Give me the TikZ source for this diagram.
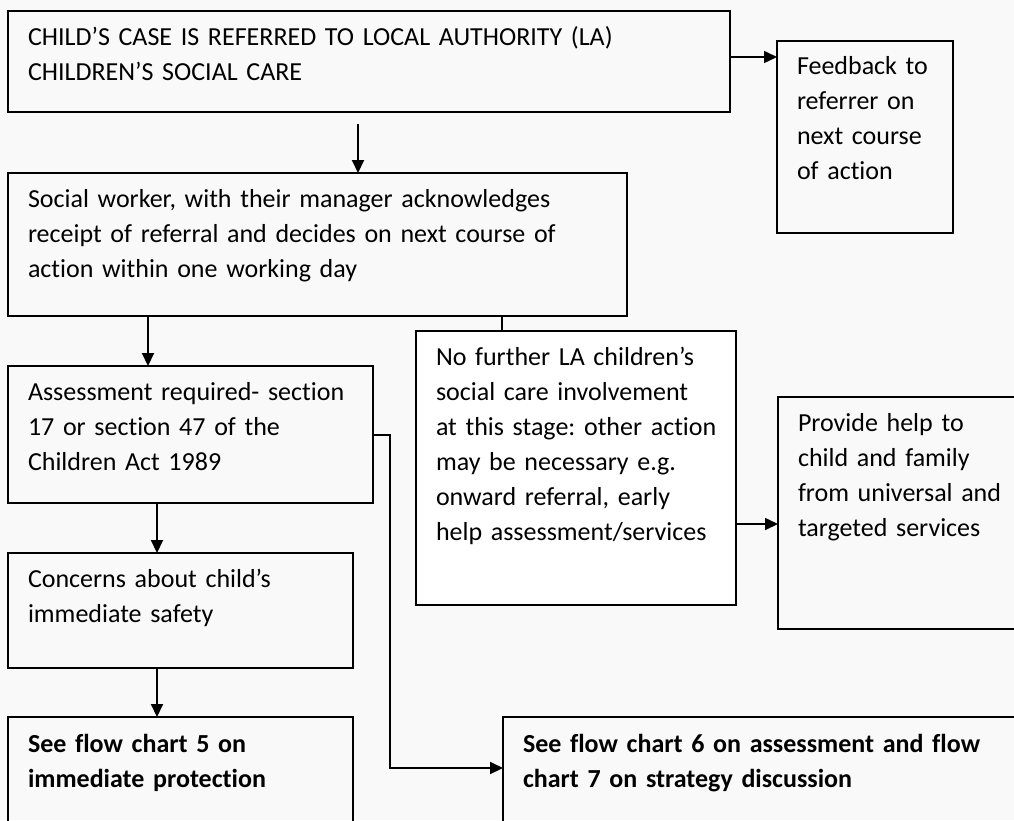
\documentclass[tikz,border=0pt]{standalone}
\usepackage{fontspec}
\setmainfont{Carlito}[Ligatures=NoCommon]
\frenchspacing
\usetikzlibrary{arrows.meta}
\definecolor{bg}{RGB}{249,249,249}
\tikzset{
  box/.style={draw=black, line width=1.2pt, rectangle, inner xsep=20pt, inner ysep=0pt,
    outer sep=0pt, anchor=north west, align=left,
    font=\fontsize{26}{35}\selectfont},
  arr/.style={line width=2pt, -{Triangle[length=13pt,width=12pt]}},
  thinarr/.style={line width=1.6pt, -{Triangle[length=13pt,width=12pt]}},
  link/.style={line width=2pt}
}
\begin{document}
\begin{tikzpicture}[x=1pt,y=-1pt]
\useasboundingbox (0,0) rectangle (1014,820);
\fill[bg] (0,0) rectangle (1014,820);
\clip (0,0) rectangle (1014,820);
\node[box, text width=682pt, text height=34pt, text depth=67pt] (b1) at (8,11)
  {\mbox{CHILD’S CASE IS REFERRED TO LOCAL AUTHORITY (LA)}\\\mbox{CHILDREN’S SOCIAL CARE}};
\node[box, text width=136pt, text height=33pt, text depth=159pt] (fb) at (777,41)
  {\mbox{Feedback to}\\\mbox{referrer on}\\\mbox{next course}\\\mbox{of action}};
\node[box, text width=579pt, text height=34pt, text depth=109pt] (b2) at (8,173)
  {\mbox{Social worker, with their manager acknowledges}\\\mbox{receipt of referral and decides on next course of}\\\mbox{action within one working day}};
\node[box, fill=white, text width=280pt, text height=34pt, text depth=240pt] (nf) at (416,331)
  {\mbox{No further LA children’s}\\\mbox{social care involvement}\\\mbox{at this stage: other action}\\\mbox{may be necessary e.g.}\\\mbox{onward referral, early}\\\mbox{help assessment/services}};
\node[box, text width=325pt, text height=34pt, text depth=103pt] (as) at (8,366)
  {\mbox{Assessment required- section}\\\mbox{17 or section 47 of the}\\\mbox{Children Act 1989}};
\node[box, text width=220pt, text height=34pt, text depth=198pt] (pr) at (778,397)
  {\mbox{Provide help to}\\\mbox{child and family}\\\mbox{from universal and}\\\mbox{targeted services}};
\node[box, text width=305pt, text height=34pt, text depth=81pt] (co) at (8,553)
  {\mbox{Concerns about child’s}\\\mbox{immediate safety}};
\node[box, text width=305pt, text height=35pt, text depth=95pt, font=\fontsize{26}{35}\selectfont\bfseries] (s5) at (8,717)
  {\mbox{See flow chart 5 on}\\\mbox{immediate protection}};
\node[box, text width=490pt, text height=35pt, text depth=95pt, font=\fontsize{26}{35}\selectfont\bfseries] (s6) at (503,717)
  {\mbox{See flow chart 6 on assessment and flow}\\\mbox{chart 7 on strategy discussion}};
% connectors
\coordinate (c1) at (358,124);
\draw[thinarr] (b1.east |- 0,57) -- (fb.west |- 0,57);
\draw[arr] (c1) -- (c1 |- b2.north);
\draw[arr] ([xshift=140pt]b2.south west) -- ([xshift=140pt]as.north west);
\draw[link] ([xshift=494pt]b2.south west) -- ([xshift=494pt]b2.south west |- nf.north);
\draw[arr] ([xshift=149pt]as.south west) -- ([xshift=149pt]co.north west);
\draw[arr] ([xshift=149pt]co.south west) -- ([xshift=149pt]co.south west |- s5.north);
\draw[thinarr] (nf.east |- 0,524) -- (pr.west |- 0,524);
\draw[arr] (as.east) -- ++(17,0) |- ([yshift=-51pt]s6.north west);
\end{tikzpicture}
\end{document}
